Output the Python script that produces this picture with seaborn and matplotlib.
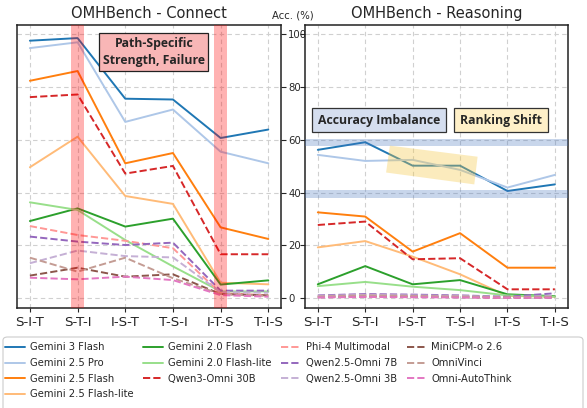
import matplotlib
matplotlib.use("Agg")
import matplotlib.pyplot as plt
import seaborn as sns
import pandas as pd
from matplotlib.patches import Polygon, FancyBboxPatch

# ---------------- data ----------------
paths = ["S-I-T", "S-T-I", "I-S-T", "T-S-I", "I-T-S", "T-I-S"]

models = ["Gemini 3 Flash", "Gemini 2.5 Pro", "Gemini 2.5 Flash", "Gemini 2.5 Flash-lite",
          "Gemini 2.0 Flash", "Gemini 2.0 Flash-lite", "Qwen3-Omni 30B", "Phi-4 Multimodal",
          "Qwen2.5-Omni 7B", "Qwen2.5-Omni 3B", "MiniCPM-o 2.6", "OmniVinci", "Omni-AutoThink"]

connect_g3f   = [97.6, 98.6, 75.6, 75.3, 60.7, 63.9]
connect_g25p  = [94.8, 97.0, 66.8, 71.5, 55.5, 51.1]
connect_g25f  = [82.4, 86.1, 51.1, 55.0, 26.8, 22.4]
connect_g25fl = [49.6, 61.2, 38.7, 35.7, 5.8, 5.2]
connect_g20f  = [29.2, 34.0, 27.1, 30.1, 5.1, 6.7]
connect_g20fl = [36.3, 33.4, 22.0, 12.0, 2.5, 2.5]
connect_q3    = [76.2, 77.2, 47.2, 50.1, 16.6, 16.6]
connect_phi4  = [27.3, 23.9, 21.7, 18.9, 1.8, 1.1]
connect_q7b   = [23.3, 21.4, 20.1, 21.0, 2.8, 2.8]
connect_q3b   = [13.2, 18.0, 15.9, 15.4, 2.2, 2.0]
connect_mcpm  = [8.5, 11.5, 8.1, 9.0, 1.5, 1.0]
connect_ovin  = [15.3, 10.0, 15.3, 7.5, 1.5, 0.8]
connect_oat   = [7.7, 7.1, 8.1, 6.8, 1.1, 0.5]

reason_g3f   = [56.2, 59.1, 50.2, 50.2, 40.6, 43.1]
reason_g25p  = [54.3, 52.0, 52.4, 48.6, 41.9, 46.7]
reason_g25f  = [32.5, 30.9, 17.6, 24.6, 11.5, 11.5]
reason_g25fl = [19.2, 21.6, 15.7, 9.0, 0.8, 0.5]
reason_g20f  = [5.2, 12.1, 5.2, 6.8, 1.4, 0.7]
reason_g20fl = [4.5, 6.1, 4.3, 3.0, 1.0, 0.5]
reason_q3    = [27.7, 29.0, 14.7, 15.1, 3.3, 3.3]
reason_phi4  = [0.5, 0.8, 0.6, 0.4, 0.2, 0.3]
reason_q7b   = [1.0, 1.5, 1.3, 1.0, 0.5, 1.8]
reason_q3b   = [0.8, 1.2, 1.0, 0.8, 0.3, 0.8]
reason_mcpm  = [0.3, 0.5, 0.5, 0.3, 0.2, 0.2]
reason_ovin  = [0.6, 1.0, 0.8, 0.6, 0.3, 0.5]
reason_oat   = [0.2, 0.4, 0.3, 0.2, 0.1, 0.1]

connect = [connect_g3f, connect_g25p, connect_g25f, connect_g25fl, connect_g20f, connect_g20fl,
           connect_q3, connect_phi4, connect_q7b, connect_q3b, connect_mcpm, connect_ovin, connect_oat]
reason = [reason_g3f, reason_g25p, reason_g25f, reason_g25fl, reason_g20f, reason_g20fl,
          reason_q3, reason_phi4, reason_q7b, reason_q3b, reason_mcpm, reason_ovin, reason_oat]

colors = ["#1f77b4", "#aec7e8", "#ff7f0e", "#ffbb78", "#2ca02c", "#98df8a", "#d62728",
          "#ff9896", "#9467bd", "#c5b0d5", "#8c564b", "#c49c94", "#e377c2"]
styles = ["-"] * 6 + ["--"] * 7

yticks = [0, 20, 40, 60, 80, 100]

# ---------------- figure ----------------
sns.set_style("white")
plt.rcParams["font.family"] = ["DejaVu Sans"]

fig = plt.figure(figsize=(5.87, 4.08), dpi=100)
axL = fig.add_axes([0.029, 0.245, 0.450, 0.694])
axR = fig.add_axes([0.5196, 0.245, 0.4475, 0.694])

for ax, data in ((axL, connect), (axR, reason)):
    for name, vals, c, ls in zip(models, data, colors, styles):
        df = pd.DataFrame({"path": paths, "acc": vals})
        sns.lineplot(data=df, x="path", y="acc", ax=ax, color=c, linestyle=ls,
                     linewidth=1.4, label=name, legend=False, sort=False, zorder=2)
    ax.set_xlim(-0.27, 5.27)
    ax.set_ylim(-3.8, 103.6)
    ax.set_yticks(yticks)
    ax.set_xlabel("")
    ax.set_ylabel("")
    ax.grid(True, linestyle=(0, (4, 3)), color="#d0d0d0", linewidth=0.8)
    ax.set_axisbelow(True)
    for s in ax.spines.values():
        s.set_color("#222222")
        s.set_linewidth(1.1)
    ax.tick_params(axis="x", labelsize=9.6, length=3, direction="out", bottom=True, pad=3)

axL.yaxis.tick_right()
axL.tick_params(axis="y", right=True, left=False, labelright=True, labelleft=False,
                length=3.5, direction="out", labelsize=7.3, pad=1.5)
axR.tick_params(axis="y", left=True, right=False, labelleft=False, length=3.5, direction="out")

axL.set_title("OMHBench - Connect", fontsize=10.5, pad=5)
axR.set_title("OMHBench - Reasoning", fontsize=10.5, pad=5)
axL.text(1.045, 1.015, "Acc. (%)", transform=axL.transAxes, ha="center", va="bottom", fontsize=7.3)

for xc in (1, 4):
    axL.axvspan(xc - 0.133, xc + 0.133, color="red", alpha=0.3, lw=0, zorder=3)

bold_font = "Open Sans"
axL.text(2.6, 93.3, "Path-Specific\nStrength, Failure", ha="center", va="center",
         fontsize=8.8, fontweight="bold", family=bold_font, linespacing=1.45,
         bbox=dict(boxstyle="square,pad=0.28", facecolor="#f8b6b6", edgecolor="#222222", lw=0.9),
         zorder=5)

for y0, y1 in ((57.8, 60.5), (38.1, 41.0)):
    axR.axhspan(y0, y1, color="#4a78c0", alpha=0.3, lw=0, zorder=3)

poly = Polygon([(1.52, 57.8), (3.37, 53.6), (3.30, 43.1), (1.44, 47.6)], closed=True,
               facecolor="#f5c842", alpha=0.35, lw=0, zorder=3)
axR.add_patch(poly)

axR.text(1.29, 67.5, "Accuracy Imbalance", ha="center", va="center",
         fontsize=8.8, fontweight="bold", family=bold_font,
         bbox=dict(boxstyle="square,pad=0.48", facecolor="#d5deef", edgecolor="#333333", lw=0.9),
         zorder=5)
axR.text(3.86, 67.5, "Ranking Shift", ha="center", va="center",
         fontsize=8.8, fontweight="bold", family=bold_font,
         bbox=dict(boxstyle="square,pad=0.48", facecolor="#fff0c8", edgecolor="#333333", lw=0.9),
         zorder=5)

# legend frame (extends past bottom edge as in reference)
frame = FancyBboxPatch((3 / 587, -0.05), 580 / 587, (408 - 337) / 408 + 0.05,
                       boxstyle="round,pad=0,rounding_size=0.008", transform=fig.transFigure,
                       facecolor="white", edgecolor="#cccccc", lw=0.8, zorder=0)
fig.patches.append(frame)

handles, labels = axL.get_legend_handles_labels()
leg = fig.legend(handles, labels, loc="upper left", bbox_to_anchor=(5 / 587, (408 - 342.5) / 408),
                 ncol=4, fontsize=7.2, frameon=False, handlelength=2.0, handletextpad=0.45,
                 columnspacing=1.0, labelspacing=0.56, borderpad=0, borderaxespad=0)

fig.savefig("out.png", dpi=100)
